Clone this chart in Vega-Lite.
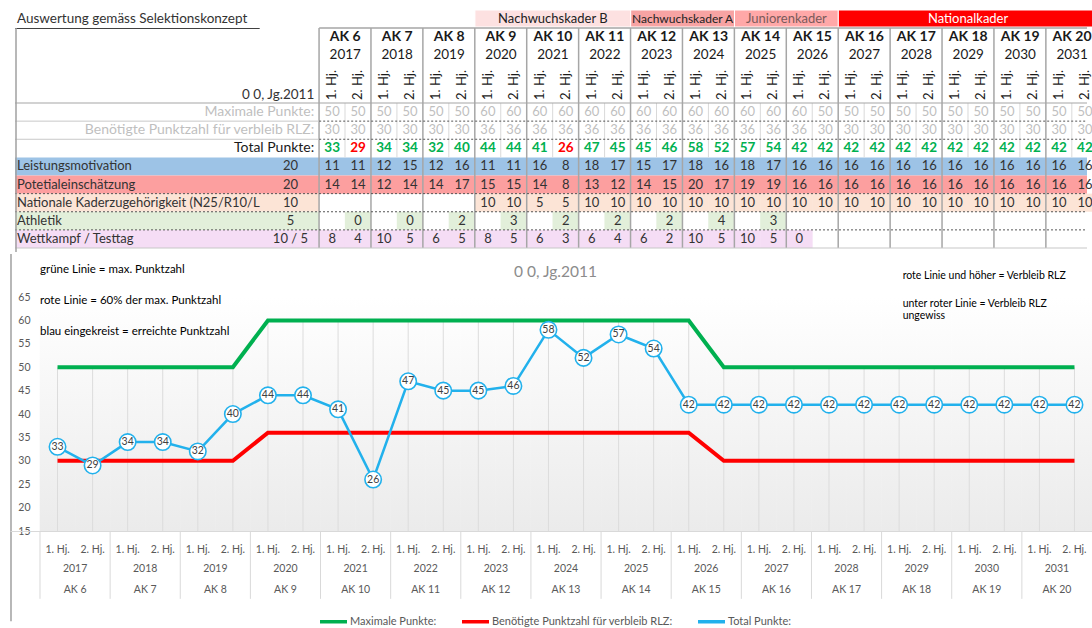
{
"$schema": "https://vega.github.io/schema/vega-lite/v6.json",
"padding": {"left": 10, "top": 0, "right": 0, "bottom": 0},
"spacing": 0,
"config": {"font": "Lato", "view": {"stroke": null}, "axis": {"ticks": false, "tickSize": 0, "tickOpacity": 0, "tickWidth": 0}, "axisY": {"domain": false, "ticks": false, "tickSize": 0, "tickOpacity": 0, "tickWidth": 0, "grid": false}, "axisQuantitative": {"ticks": false, "tickSize": 0, "tickOpacity": 0, "tickWidth": 0}},
"datasets": {
"half": [
{"key":"2017-1","i":0,"h":1,"hj":"1. Hj.","year":"2017","ak":"AK 6","max":50,"req":30,"total":33,"lm":11,"pe":14,"nk":null,"ath":null,"wt":8},
{"key":"2017-2","i":1,"h":2,"hj":"2. Hj.","year":"2017","ak":"AK 6","max":50,"req":30,"total":29,"lm":11,"pe":14,"nk":null,"ath":0,"wt":4},
{"key":"2018-1","i":2,"h":1,"hj":"1. Hj.","year":"2018","ak":"AK 7","max":50,"req":30,"total":34,"lm":12,"pe":12,"nk":null,"ath":null,"wt":10},
{"key":"2018-2","i":3,"h":2,"hj":"2. Hj.","year":"2018","ak":"AK 7","max":50,"req":30,"total":34,"lm":15,"pe":14,"nk":null,"ath":0,"wt":5},
{"key":"2019-1","i":4,"h":1,"hj":"1. Hj.","year":"2019","ak":"AK 8","max":50,"req":30,"total":32,"lm":12,"pe":14,"nk":null,"ath":null,"wt":6},
{"key":"2019-2","i":5,"h":2,"hj":"2. Hj.","year":"2019","ak":"AK 8","max":50,"req":30,"total":40,"lm":16,"pe":17,"nk":null,"ath":2,"wt":5},
{"key":"2020-1","i":6,"h":1,"hj":"1. Hj.","year":"2020","ak":"AK 9","max":60,"req":36,"total":44,"lm":11,"pe":15,"nk":10,"ath":null,"wt":8},
{"key":"2020-2","i":7,"h":2,"hj":"2. Hj.","year":"2020","ak":"AK 9","max":60,"req":36,"total":44,"lm":11,"pe":15,"nk":10,"ath":3,"wt":5},
{"key":"2021-1","i":8,"h":1,"hj":"1. Hj.","year":"2021","ak":"AK 10","max":60,"req":36,"total":41,"lm":16,"pe":14,"nk":5,"ath":null,"wt":6},
{"key":"2021-2","i":9,"h":2,"hj":"2. Hj.","year":"2021","ak":"AK 10","max":60,"req":36,"total":26,"lm":8,"pe":8,"nk":5,"ath":2,"wt":3},
{"key":"2022-1","i":10,"h":1,"hj":"1. Hj.","year":"2022","ak":"AK 11","max":60,"req":36,"total":47,"lm":18,"pe":13,"nk":10,"ath":null,"wt":6},
{"key":"2022-2","i":11,"h":2,"hj":"2. Hj.","year":"2022","ak":"AK 11","max":60,"req":36,"total":45,"lm":17,"pe":12,"nk":10,"ath":2,"wt":4},
{"key":"2023-1","i":12,"h":1,"hj":"1. Hj.","year":"2023","ak":"AK 12","max":60,"req":36,"total":45,"lm":15,"pe":14,"nk":10,"ath":null,"wt":6},
{"key":"2023-2","i":13,"h":2,"hj":"2. Hj.","year":"2023","ak":"AK 12","max":60,"req":36,"total":46,"lm":17,"pe":15,"nk":10,"ath":2,"wt":2},
{"key":"2024-1","i":14,"h":1,"hj":"1. Hj.","year":"2024","ak":"AK 13","max":60,"req":36,"total":58,"lm":18,"pe":20,"nk":10,"ath":null,"wt":10},
{"key":"2024-2","i":15,"h":2,"hj":"2. Hj.","year":"2024","ak":"AK 13","max":60,"req":36,"total":52,"lm":16,"pe":17,"nk":10,"ath":4,"wt":5},
{"key":"2025-1","i":16,"h":1,"hj":"1. Hj.","year":"2025","ak":"AK 14","max":60,"req":36,"total":57,"lm":18,"pe":19,"nk":10,"ath":null,"wt":10},
{"key":"2025-2","i":17,"h":2,"hj":"2. Hj.","year":"2025","ak":"AK 14","max":60,"req":36,"total":54,"lm":17,"pe":19,"nk":10,"ath":3,"wt":5},
{"key":"2026-1","i":18,"h":1,"hj":"1. Hj.","year":"2026","ak":"AK 15","max":60,"req":36,"total":42,"lm":16,"pe":16,"nk":10,"ath":null,"wt":0},
{"key":"2026-2","i":19,"h":2,"hj":"2. Hj.","year":"2026","ak":"AK 15","max":50,"req":30,"total":42,"lm":16,"pe":16,"nk":10,"ath":null,"wt":null},
{"key":"2027-1","i":20,"h":1,"hj":"1. Hj.","year":"2027","ak":"AK 16","max":50,"req":30,"total":42,"lm":16,"pe":16,"nk":10,"ath":null,"wt":null},
{"key":"2027-2","i":21,"h":2,"hj":"2. Hj.","year":"2027","ak":"AK 16","max":50,"req":30,"total":42,"lm":16,"pe":16,"nk":10,"ath":null,"wt":null},
{"key":"2028-1","i":22,"h":1,"hj":"1. Hj.","year":"2028","ak":"AK 17","max":50,"req":30,"total":42,"lm":16,"pe":16,"nk":10,"ath":null,"wt":null},
{"key":"2028-2","i":23,"h":2,"hj":"2. Hj.","year":"2028","ak":"AK 17","max":50,"req":30,"total":42,"lm":16,"pe":16,"nk":10,"ath":null,"wt":null},
{"key":"2029-1","i":24,"h":1,"hj":"1. Hj.","year":"2029","ak":"AK 18","max":50,"req":30,"total":42,"lm":16,"pe":16,"nk":10,"ath":null,"wt":null},
{"key":"2029-2","i":25,"h":2,"hj":"2. Hj.","year":"2029","ak":"AK 18","max":50,"req":30,"total":42,"lm":16,"pe":16,"nk":10,"ath":null,"wt":null},
{"key":"2030-1","i":26,"h":1,"hj":"1. Hj.","year":"2030","ak":"AK 19","max":50,"req":30,"total":42,"lm":16,"pe":16,"nk":10,"ath":null,"wt":null},
{"key":"2030-2","i":27,"h":2,"hj":"2. Hj.","year":"2030","ak":"AK 19","max":50,"req":30,"total":42,"lm":16,"pe":16,"nk":10,"ath":null,"wt":null},
{"key":"2031-1","i":28,"h":1,"hj":"1. Hj.","year":"2031","ak":"AK 20","max":50,"req":30,"total":42,"lm":16,"pe":16,"nk":10,"ath":null,"wt":null},
{"key":"2031-2","i":29,"h":2,"hj":"2. Hj.","year":"2031","ak":"AK 20","max":50,"req":30,"total":42,"lm":16,"pe":16,"nk":10,"ath":null,"wt":null}
],
"rows": [
{"r":0,"label":"Maximale Punkte:","maxp":""},
{"r":1,"label":"Benötigte Punktzahl für verbleib RLZ:","maxp":""},
{"r":2,"label":"Total Punkte:","maxp":""},
{"r":3,"label":"Leistungsmotivation","maxp":"20"},
{"r":4,"label":"Potetialeinschätzung","maxp":"20"},
{"r":5,"label":"Nationale Kaderzugehörigkeit (N25/R10/L10)","maxp":"10"},
{"r":6,"label":"Athletik","maxp":"5"},
{"r":7,"label":"Wettkampf / Testtag","maxp":"10 / 5"}
]
},
"vconcat": [
{
"width": 1082, "height": 252,
"layer": [
{"data": {"values": [{}]}, "mark": {"type": "rect", "fill": "#9dc3e6"},
 "encoding": {"x": {"datum": -12.218, "type": "quantitative", "scale": {"domain": [-12.218, 29.08], "nice": false, "zero": false}, "axis": null}, "x2": {"datum": 29.08},
 "y": {"datum": 2.5, "type": "quantitative", "scale": {"domain": [-6.183, 7.72], "nice": false, "zero": false, "reverse": true}, "axis": null}, "y2": {"datum": 3.5}}},
{"data": {"values": [{}]}, "mark": {"type": "rect", "fill": "#fc9f9f"},
 "encoding": {"x": {"datum": -12.218, "type": "quantitative", "scale": {"domain": [-12.218, 29.08], "nice": false, "zero": false}, "axis": null}, "x2": {"datum": 29.08},
 "y": {"datum": 3.5, "type": "quantitative", "scale": {"domain": [-6.183, 7.72], "nice": false, "zero": false, "reverse": true}, "axis": null}, "y2": {"datum": 4.5}}},
{"data": {"values": [{}]}, "mark": {"type": "rect", "fill": "#fce4d6"},
 "encoding": {"x": {"datum": -12.218, "type": "quantitative", "scale": {"domain": [-12.218, 29.08], "nice": false, "zero": false}, "axis": null}, "x2": {"datum": -0.5},
 "y": {"datum": 4.5, "type": "quantitative", "scale": {"domain": [-6.183, 7.72], "nice": false, "zero": false, "reverse": true}, "axis": null}, "y2": {"datum": 5.5}}},
{"data": {"values": [{}]}, "mark": {"type": "rect", "fill": "#e2efda"},
 "encoding": {"x": {"datum": -12.218, "type": "quantitative", "scale": {"domain": [-12.218, 29.08], "nice": false, "zero": false}, "axis": null}, "x2": {"datum": -0.5},
 "y": {"datum": 5.5, "type": "quantitative", "scale": {"domain": [-6.183, 7.72], "nice": false, "zero": false, "reverse": true}, "axis": null}, "y2": {"datum": 6.5}}},
{"data": {"values": [{}]}, "mark": {"type": "rect", "fill": "#f5ddf5"},
 "encoding": {"x": {"datum": -12.218, "type": "quantitative", "scale": {"domain": [-12.218, 29.08], "nice": false, "zero": false}, "axis": null}, "x2": {"datum": -0.5},
 "y": {"datum": 6.5, "type": "quantitative", "scale": {"domain": [-6.183, 7.72], "nice": false, "zero": false, "reverse": true}, "axis": null}, "y2": {"datum": 7.5}}},
{"data": {"name": "half"}, "transform": [{"filter": "datum.nk != null"}],
 "mark": {"type": "bar", "orient": "vertical", "width": 26.5, "fill": "#fce4d6", "clip": true},
 "encoding": {"x": {"field": "i", "type": "quantitative", "scale": {"domain": [-12.218, 29.08], "nice": false, "zero": false}, "axis": null},
 "y": {"datum": 4.5, "type": "quantitative", "scale": {"domain": [-6.183, 7.72], "nice": false, "zero": false, "reverse": true}, "axis": null}, "y2": {"datum": 5.5}}},
{"data": {"name": "half"}, "transform": [{"filter": "datum.ath != null"}],
 "mark": {"type": "bar", "orient": "vertical", "width": 26.5, "fill": "#e2efda", "clip": true},
 "encoding": {"x": {"field": "i", "type": "quantitative", "scale": {"domain": [-12.218, 29.08], "nice": false, "zero": false}, "axis": null},
 "y": {"datum": 5.5, "type": "quantitative", "scale": {"domain": [-6.183, 7.72], "nice": false, "zero": false, "reverse": true}, "axis": null}, "y2": {"datum": 6.5}}},
{"data": {"name": "half"}, "transform": [{"filter": "datum.wt != null"}],
 "mark": {"type": "bar", "orient": "vertical", "width": 26.5, "fill": "#f5ddf5", "clip": true},
 "encoding": {"x": {"field": "i", "type": "quantitative", "scale": {"domain": [-12.218, 29.08], "nice": false, "zero": false}, "axis": null},
 "y": {"datum": 6.5, "type": "quantitative", "scale": {"domain": [-6.183, 7.72], "nice": false, "zero": false, "reverse": true}, "axis": null}, "y2": {"datum": 7.5}}},
{"data": {"values": [{}]}, "mark": {"type": "rect", "fill": "#fde1e1", "stroke": "#ffffff", "strokeWidth": 1},
 "encoding": {"x": {"datum": 5.5, "type": "quantitative", "scale": {"domain": [-12.218, 29.08], "nice": false, "zero": false}, "axis": null}, "x2": {"datum": 11.5},
 "y": {"datum": -5.631, "type": "quantitative", "scale": {"domain": [-6.183, 7.72], "nice": false, "zero": false, "reverse": true}, "axis": null}, "y2": {"datum": -4.693}}},
{"data": {"values": [{}]}, "mark": {"type": "rect", "fill": "#f7a3a3", "stroke": "#ffffff", "strokeWidth": 1},
 "encoding": {"x": {"datum": 11.5, "type": "quantitative", "scale": {"domain": [-12.218, 29.08], "nice": false, "zero": false}, "axis": null}, "x2": {"datum": 15.5},
 "y": {"datum": -5.631, "type": "quantitative", "scale": {"domain": [-6.183, 7.72], "nice": false, "zero": false, "reverse": true}, "axis": null}, "y2": {"datum": -4.693}}},
{"data": {"values": [{}]}, "mark": {"type": "rect", "fill": "#ffa8a8", "stroke": "#ffffff", "strokeWidth": 1},
 "encoding": {"x": {"datum": 15.5, "type": "quantitative", "scale": {"domain": [-12.218, 29.08], "nice": false, "zero": false}, "axis": null}, "x2": {"datum": 19.5},
 "y": {"datum": -5.631, "type": "quantitative", "scale": {"domain": [-6.183, 7.72], "nice": false, "zero": false, "reverse": true}, "axis": null}, "y2": {"datum": -4.693}}},
{"data": {"values": [{}]}, "mark": {"type": "rect", "fill": "#ff0000", "stroke": "#ffffff", "strokeWidth": 1, "clip": true},
 "encoding": {"x": {"datum": 19.5, "type": "quantitative", "scale": {"domain": [-12.218, 29.08], "nice": false, "zero": false}, "axis": null}, "x2": {"datum": 29.5},
 "y": {"datum": -5.631, "type": "quantitative", "scale": {"domain": [-6.183, 7.72], "nice": false, "zero": false, "reverse": true}, "axis": null}, "y2": {"datum": -4.693}}},
{"data": {"name": "half"}, "transform": [{"filter": "datum.h == 1"}],
 "mark": {"type": "rule", "stroke": "#a6a6a6", "strokeWidth": 1.5, "xOffset": -13.1},
 "encoding": {"x": {"field": "i", "type": "quantitative", "scale": {"domain": [-12.218, 29.08], "nice": false, "zero": false}, "axis": null},
 "y": {"datum": -4.638, "type": "quantitative", "scale": {"domain": [-6.183, 7.72], "nice": false, "zero": false, "reverse": true}, "axis": null}, "y2": {"datum": 7.5}}},
{"data": {"name": "half"}, "transform": [{"filter": "datum.h == 2"}],
 "mark": {"type": "rule", "stroke": "#d9d9d9", "strokeWidth": 1, "xOffset": -13.1},
 "encoding": {"x": {"field": "i", "type": "quantitative", "scale": {"domain": [-12.218, 29.08], "nice": false, "zero": false}, "axis": null},
 "y": {"datum": -0.5, "type": "quantitative", "scale": {"domain": [-6.183, 7.72], "nice": false, "zero": false, "reverse": true}, "axis": null}, "y2": {"datum": 2.5}}},
{"data": {"name": "rows"}, "transform": [{"filter": "indexof([1,2], datum.r) >= 0"}],
 "mark": {"type": "rule", "stroke": "#c8c8c8", "strokeWidth": 1, "yOffset": -9.06},
 "encoding": {"x": {"datum": -12.218, "type": "quantitative", "scale": {"domain": [-12.218, 29.08], "nice": false, "zero": false}, "axis": null}, "x2": {"datum": -0.5},
 "y": {"field": "r", "type": "quantitative", "scale": {"domain": [-6.183, 7.72], "nice": false, "zero": false, "reverse": true}, "axis": null}}},
{"data": {"name": "rows"}, "transform": [{"filter": "indexof([1,2], datum.r) >= 0"}],
 "mark": {"type": "rule", "stroke": "#555555", "strokeWidth": 1, "strokeDash": [2, 2], "yOffset": -9.06},
 "encoding": {"x": {"datum": -0.5, "type": "quantitative", "scale": {"domain": [-12.218, 29.08], "nice": false, "zero": false}, "axis": null}, "x2": {"datum": 29.08},
 "y": {"field": "r", "type": "quantitative", "scale": {"domain": [-6.183, 7.72], "nice": false, "zero": false, "reverse": true}, "axis": null}}},
{"data": {"name": "rows"}, "transform": [{"filter": "indexof([5,6,7], datum.r) >= 0"}],
 "mark": {"type": "rule", "stroke": "#555555", "strokeWidth": 1, "strokeDash": [2, 2], "yOffset": -9.06},
 "encoding": {"x": {"datum": -12.218, "type": "quantitative", "scale": {"domain": [-12.218, 29.08], "nice": false, "zero": false}, "axis": null}, "x2": {"datum": 29.08},
 "y": {"field": "r", "type": "quantitative", "scale": {"domain": [-6.183, 7.72], "nice": false, "zero": false, "reverse": true}, "axis": null}}},
{"data": {"values": [{}]}, "mark": {"type": "rule", "stroke": "#a6a6a6", "strokeWidth": 1.2},
 "encoding": {"x": {"datum": -12.218, "type": "quantitative", "scale": {"domain": [-12.218, 29.08], "nice": false, "zero": false}, "axis": null}, "x2": {"datum": 29.08},
 "y": {"datum": -0.5, "type": "quantitative", "scale": {"domain": [-6.183, 7.72], "nice": false, "zero": false, "reverse": true}, "axis": null}}},
{"data": {"values": [{}]}, "mark": {"type": "rule", "stroke": "#c8c8c8", "strokeWidth": 1.2},
 "encoding": {"x": {"datum": -12.218, "type": "quantitative", "scale": {"domain": [-12.218, 29.08], "nice": false, "zero": false}, "axis": null}, "x2": {"datum": 29.08},
 "y": {"datum": 7.5, "type": "quantitative", "scale": {"domain": [-6.183, 7.72], "nice": false, "zero": false, "reverse": true}, "axis": null}}},
{"data": {"values": [{}]}, "mark": {"type": "rule", "stroke": "#a6a6a6", "strokeWidth": 1.5},
 "encoding": {"x": {"datum": -0.5, "type": "quantitative", "scale": {"domain": [-12.218, 29.08], "nice": false, "zero": false}, "axis": null}, "x2": {"datum": 29.08},
 "y": {"datum": -4.638, "type": "quantitative", "scale": {"domain": [-6.183, 7.72], "nice": false, "zero": false, "reverse": true}, "axis": null}}},
{"data": {"values": [{}]}, "mark": {"type": "rule", "stroke": "#404040", "strokeWidth": 1},
 "encoding": {"x": {"datum": -12.218, "type": "quantitative", "scale": {"domain": [-12.218, 29.08], "nice": false, "zero": false}, "axis": null}, "x2": {"datum": -2.791},
 "y": {"datum": -4.61, "type": "quantitative", "scale": {"domain": [-6.183, 7.72], "nice": false, "zero": false, "reverse": true}, "axis": null}}},
{"data": {"values": [{}]}, "mark": {"type": "rule", "stroke": "#a0a0a0", "strokeWidth": 1.5, "xOffset": 1},
 "encoding": {"x": {"datum": -12.218, "type": "quantitative", "scale": {"domain": [-12.218, 29.08], "nice": false, "zero": false}, "axis": null},
 "y": {"datum": -4.638, "type": "quantitative", "scale": {"domain": [-6.183, 7.72], "nice": false, "zero": false, "reverse": true}, "axis": null}, "y2": {"datum": 7.72}}},
{"data": {"values": [{"t": "Auswertung gemäss Selektionskonzept"}]}, "mark": {"type": "text", "align": "left", "baseline": "middle", "fontSize": 13.5, "fill": "#333333"},
 "encoding": {"x": {"datum": -12.142, "type": "quantitative", "scale": {"domain": [-12.218, 29.08], "nice": false, "zero": false}, "axis": null},
 "y": {"datum": -5.134, "type": "quantitative", "scale": {"domain": [-6.183, 7.72], "nice": false, "zero": false, "reverse": true}, "axis": null}, "text": {"field": "t"}}},
{"data": {"values": [{"t": "0 0, Jg.2011"}]}, "mark": {"type": "text", "align": "right", "baseline": "middle", "fontSize": 13.5, "fill": "#333333"},
 "encoding": {"x": {"datum": -0.691, "type": "quantitative", "scale": {"domain": [-12.218, 29.08], "nice": false, "zero": false}, "axis": null},
 "y": {"datum": -0.941, "type": "quantitative", "scale": {"domain": [-6.183, 7.72], "nice": false, "zero": false, "reverse": true}, "axis": null}, "text": {"field": "t"}}},
{"data": {"name": "rows"}, "transform": [{"filter": "datum.r < 3"}],
 "mark": {"type": "text", "align": "right", "baseline": "middle", "fontSize": 14},
 "encoding": {"x": {"datum": -0.691, "type": "quantitative", "scale": {"domain": [-12.218, 29.08], "nice": false, "zero": false}, "axis": null},
 "y": {"field": "r", "type": "quantitative", "scale": {"domain": [-6.183, 7.72], "nice": false, "zero": false, "reverse": true}, "axis": null},
 "text": {"field": "label"},
 "color": {"condition": {"test": "datum.r < 2", "value": "#bfbfbf"}, "value": "#1a1a1a"}}},
{"data": {"name": "rows"}, "transform": [{"filter": "datum.r >= 3"}],
 "mark": {"type": "text", "align": "left", "baseline": "middle", "fontSize": 13, "fill": "#333333", "limit": 246, "ellipsis": "\u200b"},
 "encoding": {"x": {"datum": -12.142, "type": "quantitative", "scale": {"domain": [-12.218, 29.08], "nice": false, "zero": false}, "axis": null},
 "y": {"field": "r", "type": "quantitative", "scale": {"domain": [-6.183, 7.72], "nice": false, "zero": false, "reverse": true}, "axis": null},
 "text": {"field": "label"}}},
{"data": {"name": "rows"}, "transform": [{"filter": "datum.r >= 3"}],
 "mark": {"type": "text", "align": "center", "baseline": "middle", "fontSize": 13, "fill": "#333333"},
 "encoding": {"x": {"datum": -1.607, "type": "quantitative", "scale": {"domain": [-12.218, 29.08], "nice": false, "zero": false}, "axis": null},
 "y": {"field": "r", "type": "quantitative", "scale": {"domain": [-6.183, 7.72], "nice": false, "zero": false, "reverse": true}, "axis": null},
 "text": {"field": "maxp"}}},
{"data": {"values": [{"t": "Nachwuchskader B"}]}, "mark": {"type": "text", "align": "center", "baseline": "middle", "fontSize": 13, "fill": "#222222"},
 "encoding": {"x": {"datum": 8.5, "type": "quantitative", "scale": {"domain": [-12.218, 29.08], "nice": false, "zero": false}, "axis": null},
 "y": {"datum": -5.162, "type": "quantitative", "scale": {"domain": [-6.183, 7.72], "nice": false, "zero": false, "reverse": true}, "axis": null}, "text": {"field": "t"}}},
{"data": {"values": [{"t": "Nachwuchskader A"}]}, "mark": {"type": "text", "align": "center", "baseline": "middle", "fontSize": 12, "fill": "#222222"},
 "encoding": {"x": {"datum": 13.5, "type": "quantitative", "scale": {"domain": [-12.218, 29.08], "nice": false, "zero": false}, "axis": null},
 "y": {"datum": -5.162, "type": "quantitative", "scale": {"domain": [-6.183, 7.72], "nice": false, "zero": false, "reverse": true}, "axis": null}, "text": {"field": "t"}}},
{"data": {"values": [{"t": "Juniorenkader"}]}, "mark": {"type": "text", "align": "center", "baseline": "middle", "fontSize": 13, "fill": "#7a5a5a"},
 "encoding": {"x": {"datum": 17.5, "type": "quantitative", "scale": {"domain": [-12.218, 29.08], "nice": false, "zero": false}, "axis": null},
 "y": {"datum": -5.162, "type": "quantitative", "scale": {"domain": [-6.183, 7.72], "nice": false, "zero": false, "reverse": true}, "axis": null}, "text": {"field": "t"}}},
{"data": {"values": [{"t": "Nationalkader"}]}, "mark": {"type": "text", "align": "center", "baseline": "middle", "fontSize": 13, "fill": "#ffffff"},
 "encoding": {"x": {"datum": 24.5, "type": "quantitative", "scale": {"domain": [-12.218, 29.08], "nice": false, "zero": false}, "axis": null},
 "y": {"datum": -5.162, "type": "quantitative", "scale": {"domain": [-6.183, 7.72], "nice": false, "zero": false, "reverse": true}, "axis": null}, "text": {"field": "t"}}},
{"data": {"name": "half"}, "transform": [{"filter": "datum.h == 1"}],
 "mark": {"type": "text", "align": "center", "baseline": "middle", "fontSize": 14, "fontWeight": "bold", "fill": "#1a1a1a", "xOffset": 13.1, "clip": true},
 "encoding": {"x": {"field": "i", "type": "quantitative", "scale": {"domain": [-12.218, 29.08], "nice": false, "zero": false}, "axis": null},
 "y": {"datum": -4.141, "type": "quantitative", "scale": {"domain": [-6.183, 7.72], "nice": false, "zero": false, "reverse": true}, "axis": null}, "text": {"field": "ak"}}},
{"data": {"name": "half"}, "transform": [{"filter": "datum.h == 1"}],
 "mark": {"type": "text", "align": "center", "baseline": "middle", "fontSize": 13.5, "fill": "#1a1a1a", "xOffset": 13.1, "clip": true},
 "encoding": {"x": {"field": "i", "type": "quantitative", "scale": {"domain": [-12.218, 29.08], "nice": false, "zero": false}, "axis": null},
 "y": {"datum": -3.176, "type": "quantitative", "scale": {"domain": [-6.183, 7.72], "nice": false, "zero": false, "reverse": true}, "axis": null}, "text": {"field": "year"}}},
{"data": {"name": "half"},
 "mark": {"type": "text", "align": "center", "baseline": "middle", "fontSize": 13, "fill": "#1a1a1a", "angle": 270, "clip": true},
 "encoding": {"x": {"field": "i", "type": "quantitative", "scale": {"domain": [-12.218, 29.08], "nice": false, "zero": false}, "axis": null},
 "y": {"datum": -1.493, "type": "quantitative", "scale": {"domain": [-6.183, 7.72], "nice": false, "zero": false, "reverse": true}, "axis": null}, "text": {"field": "hj"}}},
{"data": {"name": "half"},
 "mark": {"type": "text", "align": "center", "baseline": "middle", "fontSize": 13, "fill": "#bfbfbf", "clip": true},
 "encoding": {"x": {"field": "i", "type": "quantitative", "scale": {"domain": [-12.218, 29.08], "nice": false, "zero": false}, "axis": null},
 "y": {"datum": 0, "type": "quantitative", "scale": {"domain": [-6.183, 7.72], "nice": false, "zero": false, "reverse": true}, "axis": null}, "text": {"field": "max", "type": "quantitative"}}},
{"data": {"name": "half"},
 "mark": {"type": "text", "align": "center", "baseline": "middle", "fontSize": 13, "fill": "#bfbfbf", "clip": true},
 "encoding": {"x": {"field": "i", "type": "quantitative", "scale": {"domain": [-12.218, 29.08], "nice": false, "zero": false}, "axis": null},
 "y": {"datum": 1, "type": "quantitative", "scale": {"domain": [-6.183, 7.72], "nice": false, "zero": false, "reverse": true}, "axis": null}, "text": {"field": "req", "type": "quantitative"}}},
{"data": {"name": "half"},
 "mark": {"type": "text", "align": "center", "baseline": "middle", "fontSize": 13.5, "fontWeight": "bold", "clip": true},
 "encoding": {"x": {"field": "i", "type": "quantitative", "scale": {"domain": [-12.218, 29.08], "nice": false, "zero": false}, "axis": null},
 "y": {"datum": 2, "type": "quantitative", "scale": {"domain": [-6.183, 7.72], "nice": false, "zero": false, "reverse": true}, "axis": null}, "text": {"field": "total", "type": "quantitative"},
 "color": {"condition": {"test": "datum.total < datum.req", "value": "#ff0000"}, "value": "#00b050"}}},
{"data": {"name": "half"},
 "mark": {"type": "text", "align": "center", "baseline": "middle", "fontSize": 13, "fill": "#333333", "clip": true},
 "encoding": {"x": {"field": "i", "type": "quantitative", "scale": {"domain": [-12.218, 29.08], "nice": false, "zero": false}, "axis": null},
 "y": {"datum": 3, "type": "quantitative", "scale": {"domain": [-6.183, 7.72], "nice": false, "zero": false, "reverse": true}, "axis": null}, "text": {"field": "lm", "type": "quantitative"}}},
{"data": {"name": "half"},
 "mark": {"type": "text", "align": "center", "baseline": "middle", "fontSize": 13, "fill": "#333333", "clip": true},
 "encoding": {"x": {"field": "i", "type": "quantitative", "scale": {"domain": [-12.218, 29.08], "nice": false, "zero": false}, "axis": null},
 "y": {"datum": 4, "type": "quantitative", "scale": {"domain": [-6.183, 7.72], "nice": false, "zero": false, "reverse": true}, "axis": null}, "text": {"field": "pe", "type": "quantitative"}}},
{"data": {"name": "half"}, "transform": [{"filter": "datum.nk != null"}],
 "mark": {"type": "text", "align": "center", "baseline": "middle", "fontSize": 13, "fill": "#333333", "clip": true},
 "encoding": {"x": {"field": "i", "type": "quantitative", "scale": {"domain": [-12.218, 29.08], "nice": false, "zero": false}, "axis": null},
 "y": {"datum": 5, "type": "quantitative", "scale": {"domain": [-6.183, 7.72], "nice": false, "zero": false, "reverse": true}, "axis": null}, "text": {"field": "nk", "type": "quantitative"}}},
{"data": {"name": "half"}, "transform": [{"filter": "datum.ath != null"}],
 "mark": {"type": "text", "align": "center", "baseline": "middle", "fontSize": 13, "fill": "#333333", "clip": true},
 "encoding": {"x": {"field": "i", "type": "quantitative", "scale": {"domain": [-12.218, 29.08], "nice": false, "zero": false}, "axis": null},
 "y": {"datum": 6, "type": "quantitative", "scale": {"domain": [-6.183, 7.72], "nice": false, "zero": false, "reverse": true}, "axis": null}, "text": {"field": "ath", "type": "quantitative"}}},
{"data": {"name": "half"}, "transform": [{"filter": "datum.wt != null"}],
 "mark": {"type": "text", "align": "center", "baseline": "middle", "fontSize": 13, "fill": "#333333", "clip": true},
 "encoding": {"x": {"field": "i", "type": "quantitative", "scale": {"domain": [-12.218, 29.08], "nice": false, "zero": false}, "axis": null},
 "y": {"datum": 7, "type": "quantitative", "scale": {"domain": [-6.183, 7.72], "nice": false, "zero": false, "reverse": true}, "axis": null}, "text": {"field": "wt", "type": "quantitative"}}}
]
},
{
"width": 1082, "height": 277,
"layer": [
{"data": {"name": "half"},
 "mark": {"type": "rect", "fill": {"gradient": "linear", "x1": 0, "y1": 0, "x2": 0, "y2": 1, "stops": [{"offset": 0, "color": "#ffffff"}, {"offset": 1, "color": "#ebebeb"}]},
  "stroke": {"gradient": "linear", "x1": 0, "y1": 0, "x2": 0, "y2": 1, "stops": [{"offset": 0, "color": "#ffffff"}, {"offset": 1, "color": "#ebebeb"}]}, "strokeWidth": 0.6},
 "encoding": {
  "x": {"field": "key", "type": "ordinal", "scale": {"type": "band", "paddingInner": 0, "paddingOuter": 0.4277, "align": 1},
   "axis": {"title": null, "labelExpr": "slice(datum.value, 5) == '1' ? '1. Hj.' : '2. Hj.'", "labelAngle": 0, "ticks": false, "tickSize": 0, "tickOpacity": 0, "labelPadding": 13, "domainColor": "#d9d9d9", "labelColor": "#595959", "labelFontSize": 10.5, "grid": false}},
  "y": {"datum": 65, "type": "quantitative", "scale": {"domain": [15, 74.2], "nice": false, "zero": false},
   "axis": {"title": null, "values": [15, 20, 25, 30, 35, 40, 45, 50, 55, 60, 65], "offset": -30, "ticks": false, "tickSize": 0, "tickOpacity": 0, "tickWidth": 0, "tickColor": "#ffffff", "domain": false, "grid": false, "labelPadding": 10, "labelColor": "#595959", "labelFontSize": 10.5}},
  "y2": {"datum": 15}}},
{"data": {"name": "half"}, "mark": {"type": "rule", "stroke": "#dcdcdc", "strokeWidth": 1},
 "encoding": {"x": {"field": "key", "type": "ordinal", "scale": {"type": "band", "paddingInner": 0, "paddingOuter": 0.4277, "align": 1},
   "axis": {"title": null, "labelExpr": "slice(datum.value, 5) == '1' ? '1. Hj.' : '2. Hj.'", "labelAngle": 0, "ticks": false, "tickSize": 0, "tickOpacity": 0, "labelPadding": 13, "domainColor": "#d9d9d9", "labelColor": "#595959", "labelFontSize": 10.5, "grid": false}},
  "y": {"field": "max", "type": "quantitative", "scale": {"domain": [15, 74.2], "nice": false, "zero": false},
   "axis": {"title": null, "values": [15, 20, 25, 30, 35, 40, 45, 50, 55, 60, 65], "offset": -30, "ticks": false, "tickSize": 0, "tickOpacity": 0, "tickWidth": 0, "tickColor": "#ffffff", "domain": false, "grid": false, "labelPadding": 10, "labelColor": "#595959", "labelFontSize": 10.5}},
  "y2": {"datum": 15}}},
{"data": {"name": "half"}, "transform": [{"filter": "datum.h == 1"}], "mark": {"type": "rule", "stroke": "#d9d9d9", "strokeWidth": 1},
 "encoding": {"x": {"field": "key", "type": "ordinal", "bandPosition": 0, "scale": {"type": "band", "paddingInner": 0, "paddingOuter": 0.4277, "align": 1},
   "axis": {"title": null, "labelExpr": "slice(datum.value, 5) == '1' ? '1. Hj.' : '2. Hj.'", "labelAngle": 0, "ticks": false, "tickSize": 0, "tickOpacity": 0, "labelPadding": 13, "domainColor": "#d9d9d9", "labelColor": "#595959", "labelFontSize": 10.5, "grid": false}},
  "y": {"datum": 15, "type": "quantitative", "scale": {"domain": [15, 74.2], "nice": false, "zero": false},
   "axis": {"title": null, "values": [15, 20, 25, 30, 35, 40, 45, 50, 55, 60, 65], "offset": -30, "ticks": false, "tickSize": 0, "tickOpacity": 0, "tickWidth": 0, "tickColor": "#ffffff", "domain": false, "grid": false, "labelPadding": 10, "labelColor": "#595959", "labelFontSize": 10.5}},
  "y2": {"datum": 0.5}}},
{"data": {"values": [{}]}, "mark": {"type": "rule", "stroke": "#a0a0a0", "strokeWidth": 1.5, "xOffset": -29},
 "encoding": {"x": {"datum": "2017-1", "type": "ordinal", "bandPosition": 0, "scale": {"type": "band", "paddingInner": 0, "paddingOuter": 0.4277, "align": 1},
   "axis": {"title": null, "labelExpr": "slice(datum.value, 5) == '1' ? '1. Hj.' : '2. Hj.'", "labelAngle": 0, "ticks": false, "tickSize": 0, "tickOpacity": 0, "labelPadding": 13, "domainColor": "#d9d9d9", "labelColor": "#595959", "labelFontSize": 10.5, "grid": false}},
  "y": {"datum": 74.2, "type": "quantitative", "scale": {"domain": [15, 74.2], "nice": false, "zero": false},
   "axis": {"title": null, "values": [15, 20, 25, 30, 35, 40, 45, 50, 55, 60, 65], "offset": -30, "ticks": false, "tickSize": 0, "tickOpacity": 0, "tickWidth": 0, "tickColor": "#ffffff", "domain": false, "grid": false, "labelPadding": 10, "labelColor": "#595959", "labelFontSize": 10.5}},
  "y2": {"datum": -4.3}}},
{"data": {"name": "half"}, "mark": {"type": "line", "strokeWidth": 4},
 "encoding": {"x": {"field": "key", "type": "ordinal", "scale": {"type": "band", "paddingInner": 0, "paddingOuter": 0.4277, "align": 1},
   "axis": {"title": null, "labelExpr": "slice(datum.value, 5) == '1' ? '1. Hj.' : '2. Hj.'", "labelAngle": 0, "ticks": false, "tickSize": 0, "tickOpacity": 0, "labelPadding": 13, "domainColor": "#d9d9d9", "labelColor": "#595959", "labelFontSize": 10.5, "grid": false}},
  "y": {"field": "max", "type": "quantitative", "scale": {"domain": [15, 74.2], "nice": false, "zero": false},
   "axis": {"title": null, "values": [15, 20, 25, 30, 35, 40, 45, 50, 55, 60, 65], "offset": -30, "ticks": false, "tickSize": 0, "tickOpacity": 0, "tickWidth": 0, "tickColor": "#ffffff", "domain": false, "grid": false, "labelPadding": 10, "labelColor": "#595959", "labelFontSize": 10.5}},
  "color": {"datum": "Maximale Punkte:", "type": "nominal", "scale": {"domain": ["Maximale Punkte:", "Benötigte Punktzahl für verbleib RLZ:", "Total Punkte:"], "range": ["#00b050", "#ff0000", "#22b1ec"]},
   "legend": {"title": null, "orient": "none", "legendX": 308, "legendY": 606, "direction": "horizontal", "symbolType": "stroke", "symbolStrokeWidth": 3.5, "symbolSize": 729, "labelFontSize": 11, "labelColor": "#595959", "labelLimit": 400, "columnPadding": 18, "labelOffset": 1}}}},
{"data": {"name": "half"}, "mark": {"type": "line", "strokeWidth": 4},
 "encoding": {"x": {"field": "key", "type": "ordinal", "scale": {"type": "band", "paddingInner": 0, "paddingOuter": 0.4277, "align": 1},
   "axis": {"title": null, "labelExpr": "slice(datum.value, 5) == '1' ? '1. Hj.' : '2. Hj.'", "labelAngle": 0, "ticks": false, "tickSize": 0, "tickOpacity": 0, "labelPadding": 13, "domainColor": "#d9d9d9", "labelColor": "#595959", "labelFontSize": 10.5, "grid": false}},
  "y": {"field": "req", "type": "quantitative", "scale": {"domain": [15, 74.2], "nice": false, "zero": false},
   "axis": {"title": null, "values": [15, 20, 25, 30, 35, 40, 45, 50, 55, 60, 65], "offset": -30, "ticks": false, "tickSize": 0, "tickOpacity": 0, "tickWidth": 0, "tickColor": "#ffffff", "domain": false, "grid": false, "labelPadding": 10, "labelColor": "#595959", "labelFontSize": 10.5}},
  "color": {"datum": "Benötigte Punktzahl für verbleib RLZ:", "type": "nominal", "scale": {"domain": ["Maximale Punkte:", "Benötigte Punktzahl für verbleib RLZ:", "Total Punkte:"], "range": ["#00b050", "#ff0000", "#22b1ec"]},
   "legend": {"title": null, "orient": "none", "legendX": 308, "legendY": 606, "direction": "horizontal", "symbolType": "stroke", "symbolStrokeWidth": 3.5, "symbolSize": 729, "labelFontSize": 11, "labelColor": "#595959", "labelLimit": 400, "columnPadding": 18, "labelOffset": 1}}}},
{"data": {"name": "half"}, "mark": {"type": "line", "strokeWidth": 2.5},
 "encoding": {"x": {"field": "key", "type": "ordinal", "scale": {"type": "band", "paddingInner": 0, "paddingOuter": 0.4277, "align": 1},
   "axis": {"title": null, "labelExpr": "slice(datum.value, 5) == '1' ? '1. Hj.' : '2. Hj.'", "labelAngle": 0, "ticks": false, "tickSize": 0, "tickOpacity": 0, "labelPadding": 13, "domainColor": "#d9d9d9", "labelColor": "#595959", "labelFontSize": 10.5, "grid": false}},
  "y": {"field": "total", "type": "quantitative", "scale": {"domain": [15, 74.2], "nice": false, "zero": false},
   "axis": {"title": null, "values": [15, 20, 25, 30, 35, 40, 45, 50, 55, 60, 65], "offset": -30, "ticks": false, "tickSize": 0, "tickOpacity": 0, "tickWidth": 0, "tickColor": "#ffffff", "domain": false, "grid": false, "labelPadding": 10, "labelColor": "#595959", "labelFontSize": 10.5}},
  "color": {"datum": "Total Punkte:", "type": "nominal", "scale": {"domain": ["Maximale Punkte:", "Benötigte Punktzahl für verbleib RLZ:", "Total Punkte:"], "range": ["#00b050", "#ff0000", "#22b1ec"]},
   "legend": {"title": null, "orient": "none", "legendX": 308, "legendY": 606, "direction": "horizontal", "symbolType": "stroke", "symbolStrokeWidth": 3.5, "symbolSize": 729, "labelFontSize": 11, "labelColor": "#595959", "labelLimit": 400, "columnPadding": 18, "labelOffset": 1}}}},
{"data": {"name": "half"}, "mark": {"type": "point", "shape": "circle", "filled": true, "fill": "#ffffff", "stroke": "#22b1ec", "strokeWidth": 1.6, "size": 270, "opacity": 1},
 "encoding": {"x": {"field": "key", "type": "ordinal", "scale": {"type": "band", "paddingInner": 0, "paddingOuter": 0.4277, "align": 1},
   "axis": {"title": null, "labelExpr": "slice(datum.value, 5) == '1' ? '1. Hj.' : '2. Hj.'", "labelAngle": 0, "ticks": false, "tickSize": 0, "tickOpacity": 0, "labelPadding": 13, "domainColor": "#d9d9d9", "labelColor": "#595959", "labelFontSize": 10.5, "grid": false}},
  "y": {"field": "total", "type": "quantitative", "scale": {"domain": [15, 74.2], "nice": false, "zero": false},
   "axis": {"title": null, "values": [15, 20, 25, 30, 35, 40, 45, 50, 55, 60, 65], "offset": -30, "ticks": false, "tickSize": 0, "tickOpacity": 0, "tickWidth": 0, "tickColor": "#ffffff", "domain": false, "grid": false, "labelPadding": 10, "labelColor": "#595959", "labelFontSize": 10.5}}}},
{"data": {"name": "half"}, "mark": {"type": "text", "fontSize": 10.5, "fill": "#404040", "align": "center", "baseline": "middle"},
 "encoding": {"x": {"field": "key", "type": "ordinal", "scale": {"type": "band", "paddingInner": 0, "paddingOuter": 0.4277, "align": 1},
   "axis": {"title": null, "labelExpr": "slice(datum.value, 5) == '1' ? '1. Hj.' : '2. Hj.'", "labelAngle": 0, "ticks": false, "tickSize": 0, "tickOpacity": 0, "labelPadding": 13, "domainColor": "#d9d9d9", "labelColor": "#595959", "labelFontSize": 10.5, "grid": false}},
  "y": {"field": "total", "type": "quantitative", "scale": {"domain": [15, 74.2], "nice": false, "zero": false},
   "axis": {"title": null, "values": [15, 20, 25, 30, 35, 40, 45, 50, 55, 60, 65], "offset": -30, "ticks": false, "tickSize": 0, "tickOpacity": 0, "tickWidth": 0, "tickColor": "#ffffff", "domain": false, "grid": false, "labelPadding": 10, "labelColor": "#595959", "labelFontSize": 10.5}},
  "text": {"field": "total", "type": "quantitative"}}},
{"data": {"name": "half"}, "transform": [{"filter": "datum.h == 1"}], "mark": {"type": "text", "fontSize": 10.5, "fill": "#595959", "align": "center", "baseline": "middle"},
 "encoding": {"x": {"field": "key", "type": "ordinal", "bandPosition": 1, "scale": {"type": "band", "paddingInner": 0, "paddingOuter": 0.4277, "align": 1},
   "axis": {"title": null, "labelExpr": "slice(datum.value, 5) == '1' ? '1. Hj.' : '2. Hj.'", "labelAngle": 0, "ticks": false, "tickSize": 0, "tickOpacity": 0, "labelPadding": 13, "domainColor": "#d9d9d9", "labelColor": "#595959", "labelFontSize": 10.5, "grid": false}},
  "y": {"datum": 6.9, "type": "quantitative", "scale": {"domain": [15, 74.2], "nice": false, "zero": false},
   "axis": {"title": null, "values": [15, 20, 25, 30, 35, 40, 45, 50, 55, 60, 65], "offset": -30, "ticks": false, "tickSize": 0, "tickOpacity": 0, "tickWidth": 0, "tickColor": "#ffffff", "domain": false, "grid": false, "labelPadding": 10, "labelColor": "#595959", "labelFontSize": 10.5}},
  "text": {"field": "year"}}},
{"data": {"name": "half"}, "transform": [{"filter": "datum.h == 1"}], "mark": {"type": "text", "fontSize": 10.5, "fill": "#595959", "align": "center", "baseline": "middle"},
 "encoding": {"x": {"field": "key", "type": "ordinal", "bandPosition": 1, "scale": {"type": "band", "paddingInner": 0, "paddingOuter": 0.4277, "align": 1},
   "axis": {"title": null, "labelExpr": "slice(datum.value, 5) == '1' ? '1. Hj.' : '2. Hj.'", "labelAngle": 0, "ticks": false, "tickSize": 0, "tickOpacity": 0, "labelPadding": 13, "domainColor": "#d9d9d9", "labelColor": "#595959", "labelFontSize": 10.5, "grid": false}},
  "y": {"datum": 2.4, "type": "quantitative", "scale": {"domain": [15, 74.2], "nice": false, "zero": false},
   "axis": {"title": null, "values": [15, 20, 25, 30, 35, 40, 45, 50, 55, 60, 65], "offset": -30, "ticks": false, "tickSize": 0, "tickOpacity": 0, "tickWidth": 0, "tickColor": "#ffffff", "domain": false, "grid": false, "labelPadding": 10, "labelColor": "#595959", "labelFontSize": 10.5}},
  "text": {"field": "ak"}}},
{"data": {"values": [{"t": "grüne Linie = max. Punktzahl", "p": 70.7}, {"t": "rote Linie = 60% der max. Punktzahl", "p": 64.1}, {"t": "blau eingekreist = erreichte Punktzahl", "p": 57.5}]},
 "mark": {"type": "text", "fontSize": 11.5, "fill": "#000000", "align": "left", "baseline": "middle"},
 "encoding": {"x": {"datum": "2017-1", "type": "ordinal", "bandPosition": 0, "scale": {"type": "band", "paddingInner": 0, "paddingOuter": 0.4277, "align": 1},
   "axis": {"title": null, "labelExpr": "slice(datum.value, 5) == '1' ? '1. Hj.' : '2. Hj.'", "labelAngle": 0, "ticks": false, "tickSize": 0, "tickOpacity": 0, "labelPadding": 13, "domainColor": "#d9d9d9", "labelColor": "#595959", "labelFontSize": 10.5, "grid": false}},
  "y": {"field": "p", "type": "quantitative", "scale": {"domain": [15, 74.2], "nice": false, "zero": false},
   "axis": {"title": null, "values": [15, 20, 25, 30, 35, 40, 45, 50, 55, 60, 65], "offset": -30, "ticks": false, "tickSize": 0, "tickOpacity": 0, "tickWidth": 0, "tickColor": "#ffffff", "domain": false, "grid": false, "labelPadding": 10, "labelColor": "#595959", "labelFontSize": 10.5}},
  "text": {"field": "t"}}},
{"data": {"values": [{"t": "rote Linie und höher = Verbleib RLZ", "p": 69.6}, {"t": "unter roter Linie = Verbleib RLZ", "p": 63.6}, {"t": "ungewiss", "p": 60.9}]},
 "mark": {"type": "text", "fontSize": 10.5, "fill": "#000000", "align": "left", "baseline": "middle"},
 "encoding": {"x": {"datum": "2029-1", "type": "ordinal", "bandPosition": 0.6, "scale": {"type": "band", "paddingInner": 0, "paddingOuter": 0.4277, "align": 1},
   "axis": {"title": null, "labelExpr": "slice(datum.value, 5) == '1' ? '1. Hj.' : '2. Hj.'", "labelAngle": 0, "ticks": false, "tickSize": 0, "tickOpacity": 0, "labelPadding": 13, "domainColor": "#d9d9d9", "labelColor": "#595959", "labelFontSize": 10.5, "grid": false}},
  "y": {"field": "p", "type": "quantitative", "scale": {"domain": [15, 74.2], "nice": false, "zero": false},
   "axis": {"title": null, "values": [15, 20, 25, 30, 35, 40, 45, 50, 55, 60, 65], "offset": -30, "ticks": false, "tickSize": 0, "tickOpacity": 0, "tickWidth": 0, "tickColor": "#ffffff", "domain": false, "grid": false, "labelPadding": 10, "labelColor": "#595959", "labelFontSize": 10.5}},
  "text": {"field": "t"}}},
{"data": {"values": [{"t": "0 0, Jg.2011"}]}, "mark": {"type": "text", "fontSize": 15.5, "fill": "#8c8c8c", "align": "center", "baseline": "middle"},
 "encoding": {"x": {"datum": "2024-1", "type": "ordinal", "bandPosition": 0.7, "scale": {"type": "band", "paddingInner": 0, "paddingOuter": 0.4277, "align": 1},
   "axis": {"title": null, "labelExpr": "slice(datum.value, 5) == '1' ? '1. Hj.' : '2. Hj.'", "labelAngle": 0, "ticks": false, "tickSize": 0, "tickOpacity": 0, "labelPadding": 13, "domainColor": "#d9d9d9", "labelColor": "#595959", "labelFontSize": 10.5, "grid": false}},
  "y": {"datum": 70.35, "type": "quantitative", "scale": {"domain": [15, 74.2], "nice": false, "zero": false},
   "axis": {"title": null, "values": [15, 20, 25, 30, 35, 40, 45, 50, 55, 60, 65], "offset": -30, "ticks": false, "tickSize": 0, "tickOpacity": 0, "tickWidth": 0, "tickColor": "#ffffff", "domain": false, "grid": false, "labelPadding": 10, "labelColor": "#595959", "labelFontSize": 10.5}},
  "text": {"field": "t"}}}
]
}
]
}
